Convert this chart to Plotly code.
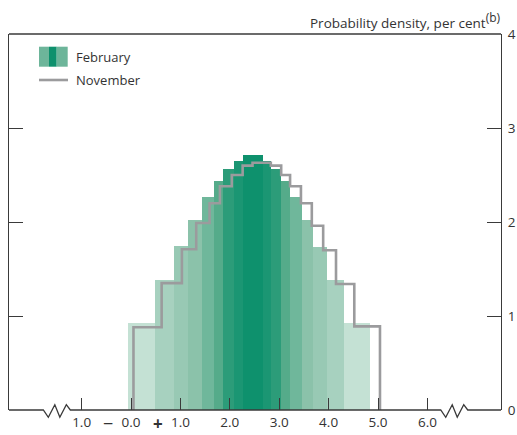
import plotly.graph_objects as go

# ---- data ----
feb_edges = [-0.07, 0.49, 0.87, 1.16, 1.43, 1.67, 1.87, 2.09, 2.27, 2.48,
             2.68, 2.83, 3.04, 3.22, 3.46, 3.69, 3.96, 4.32, 4.84]
feb_density = [0.93, 1.38, 1.74, 2.02, 2.27, 2.44, 2.56, 2.65, 2.71,
               2.71, 2.65, 2.56, 2.44, 2.27, 2.02, 1.73, 1.38, 0.93]
feb_colors = ["#c4e1d4", "#a7d1bf", "#98c9b4", "#8bc2aa", "#6fb79b",
              "#55ab8a", "#2c9c79", "#1b9673", "#0e916d",
              "#0e916d", "#1b9673", "#2c9c79", "#55ab8a", "#6fb79b",
              "#8bc2aa", "#98c9b4", "#a7d1bf", "#c4e1d4"]

nov_edges = [0.05, 0.62, 1.03, 1.32, 1.59, 1.80, 2.04, 2.26, 2.46, 2.65,
             2.83, 3.04, 3.22, 3.44, 3.66, 3.89, 4.15, 4.52, 5.04]
nov_density = [0.88, 1.35, 1.71, 1.99, 2.20, 2.38, 2.50, 2.60, 2.63,
               2.63, 2.60, 2.50, 2.38, 2.20, 1.96, 1.70, 1.34, 0.89]

x_tickvals = [-1, 0, 1, 2, 3, 4, 5, 6]
x_ticktext = ["1.0", "0.0", "1.0", "2.0", "3.0", "4.0", "5.0", "6.0"]
y_tickvals = [0, 1, 2, 3, 4]

XMIN, XMAX = -2.47, 7.49
YMIN, YMAX = 0, 4

FONT = "Open Sans"
TXT = "#333333"
AX = "#3a3a3a"
GREY = "#9b9b9d"

W, H = 517, 435
ML, MR, MT, MB = 9, 16, 34, 25
PW, PH = W - ML - MR, H - MT - MB


def px_x(p):
    return (p - ML) / PW


def px_y(p):
    return (H - MB - p) / PH


def data_x(v):
    return (v - XMIN) / (XMAX - XMIN)


fig = go.Figure()

# February histogram bars
centers = [(a + b) / 2 for a, b in zip(feb_edges[:-1], feb_edges[1:])]
widths = [b - a for a, b in zip(feb_edges[:-1], feb_edges[1:])]
fig.add_trace(go.Bar(
    x=centers, y=feb_density, width=widths, base=0,
    marker=dict(color=feb_colors, line=dict(width=0)),
    name="February", showlegend=False, hoverinfo="skip",
))

# November step line
nx = [nov_edges[0]] + nov_edges[:-1] + [nov_edges[-1]]
ny = [0] + nov_density + [0]
fig.add_trace(go.Scatter(
    x=nx, y=ny, mode="lines", line=dict(color=GREY, width=2.6, shape="hv"),
    name="November", showlegend=False, hoverinfo="skip",
))

shapes = []
# top frame line
shapes.append(dict(type="line", xref="paper", yref="paper", x0=0, x1=1, y0=1, y1=1,
                   line=dict(color=AX, width=1.3)))

# bottom frame with break zigzags
zig_dx = [0, 5, 11.5, 16.5, 23, 27]
zig_dy = [0, -7.3, 5.3, -7.3, 5.3, 0]
starts = [-1.775, 6.27]
path = "M 0,0"
for s in starts:
    sx = data_x(s)
    for dx, dy in zip(zig_dx, zig_dy):
        path += f" L {sx + dx / PW:.5f},{dy / PH:.5f}"
path += " L 1,0"
shapes.append(dict(type="path", xref="paper", yref="paper", path=path,
                   line=dict(color=AX, width=1.3)))

# legend: February swatch (three stripes) and November line
shapes.append(dict(type="rect", xref="paper", yref="paper",
                   x0=px_x(39), x1=px_x(49), y0=px_y(66.7), y1=px_y(46.7),
                   fillcolor="#6db59a", line=dict(width=0)))
shapes.append(dict(type="rect", xref="paper", yref="paper",
                   x0=px_x(49), x1=px_x(56.7), y0=px_y(66.7), y1=px_y(46.7),
                   fillcolor="#0e916d", line=dict(width=0)))
shapes.append(dict(type="rect", xref="paper", yref="paper",
                   x0=px_x(56.7), x1=px_x(67.7), y0=px_y(66.7), y1=px_y(46.7),
                   fillcolor="#6db59a", line=dict(width=0)))
shapes.append(dict(type="line", xref="paper", yref="paper",
                   x0=px_x(39), x1=px_x(68), y0=px_y(80), y1=px_y(80),
                   line=dict(color=GREY, width=2.6)))

annotations = [
    dict(text="February", xref="paper", yref="paper", x=px_x(74), y=px_y(56.5),
         xanchor="left", yanchor="middle", showarrow=False,
         font=dict(family=FONT, size=13, color=TXT)),
    dict(text="November", xref="paper", yref="paper", x=px_x(74), y=px_y(80),
         xanchor="left", yanchor="middle", showarrow=False,
         font=dict(family=FONT, size=13, color=TXT)),
    dict(text="Probability density, per cent<sup><span style='font-size:12px'>(b)</span></sup>",
         xref="paper", yref="paper",
         x=px_x(503), y=px_y(20), xanchor="right", yanchor="middle", showarrow=False,
         font=dict(family=FONT, size=13.5, color=TXT)),
    dict(text="\u2212", xref="paper", yref="paper", x=data_x(-0.47), y=px_y(423),
         xanchor="center", yanchor="middle", showarrow=False,
         font=dict(family=FONT, size=18, color=TXT)),
    dict(text="<b>+</b>", xref="paper", yref="paper", x=data_x(0.55), y=px_y(424),
         xanchor="center", yanchor="middle", showarrow=False,
         font=dict(family=FONT, size=17, color=TXT)),
]

fig.update_layout(
    width=W, height=H,
    margin=dict(l=ML, r=MR, t=MT, b=MB, pad=0, autoexpand=False),
    paper_bgcolor="white", plot_bgcolor="white",
    showlegend=False, bargap=0,
    shapes=shapes, annotations=annotations,
    font=dict(family=FONT, size=13, color=TXT),
    xaxis=dict(range=[XMIN, XMAX], tickvals=x_tickvals, ticktext=x_ticktext,
               ticks="inside", ticklen=12, tickwidth=1.3, tickcolor=AX,
               showline=False, showgrid=False, zeroline=False,
               ticklabelstandoff=2,
               tickfont=dict(family=FONT, size=13.5, color=TXT), automargin=False),
    yaxis=dict(range=[YMIN, YMAX], tickvals=y_tickvals, side="right",
               ticks="inside", ticklen=14, tickwidth=1.3, tickcolor=AX,
               showline=True, linecolor=AX, linewidth=1.3, mirror="ticks",
               showgrid=False, zeroline=False, ticklabelstandoff=3,
               tickfont=dict(family=FONT, size=13.5, color=TXT), automargin=False),
)

fig.write_html(
    "out.html",
    config={"displayModeBar": False},
    post_script="document.body.style.margin='0';document.body.style.overflow='hidden';",
)
